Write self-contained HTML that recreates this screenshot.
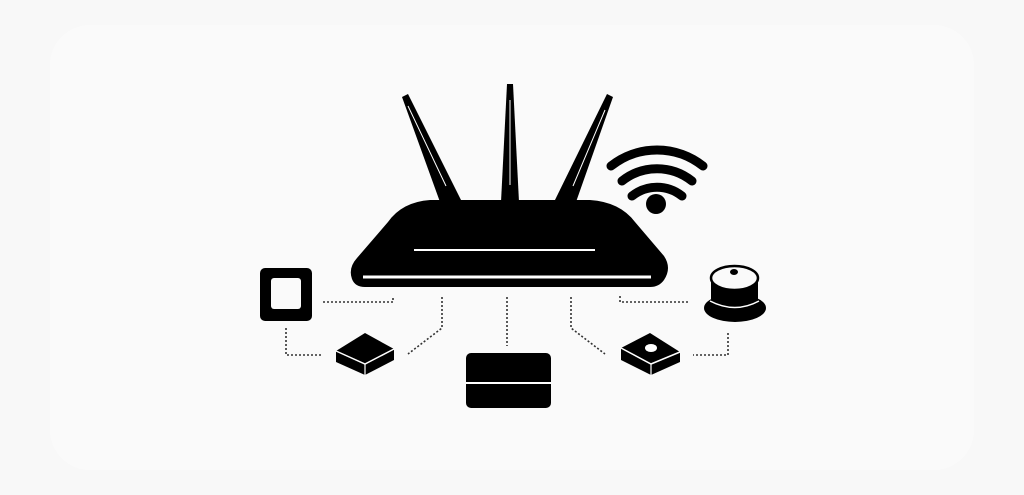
<!DOCTYPE html>
<html><head><meta charset="utf-8"><style>
html,body{margin:0;padding:0;background:#f8f8f8;}
svg{display:block}
</style></head><body>
<svg width="1024" height="495" viewBox="0 0 1024 495" xmlns="http://www.w3.org/2000/svg">
<rect width="1024" height="495" fill="#f8f8f8"/>
<rect x="50" y="25" width="924" height="445" rx="40" fill="#fafafa"/>
<!-- antennas -->
<polygon points="402,97 408,94 462,202 440,202" fill="#000"/>
<line x1="408" y1="106" x2="446" y2="186" stroke="#fff" stroke-width="1"/>
<polygon points="507,84 513,84 519,202 501,202" fill="#000"/>
<line x1="510" y1="100" x2="510" y2="185" stroke="#fff" stroke-width="1"/>
<polygon points="607,94 613,97 576,202 554,202" fill="#000"/>
<line x1="605" y1="110" x2="573" y2="186" stroke="#fff" stroke-width="1"/>
<!-- router body -->
<path d="M430,200 L590,200 Q620,202 635,222 L664,256 Q672,268 664,280 Q659,287 650,287 L365,287 Q355,287 352,279 Q348,268 357,258 L388,222 Q402,202 430,200 Z" fill="#000"/>
<line x1="414" y1="250" x2="595" y2="250" stroke="#fff" stroke-width="2"/>
<line x1="363" y1="277" x2="651" y2="277" stroke="#fff" stroke-width="3"/>
<!-- wifi -->
<g fill="none" stroke="#000" stroke-width="9" stroke-linecap="round">
<path d="M611,166 A74,74 0 0 1 703,166"/>
<path d="M622,181 A56,56 0 0 1 692,181"/>
<path d="M632,196 A40,40 0 0 1 682,196"/>
</g>
<circle cx="656" cy="204" r="10" fill="#000"/>
<!-- dotted connectors -->
<g fill="none" stroke="#333" stroke-width="1.6" stroke-dasharray="2,2">
<path d="M323,302 L393,302 L393,296"/>
<path d="M286,328 L286,355 L321,355"/>
<path d="M442,297 L442,328 L408,354"/>
<path d="M507,297 L507,346"/>
<path d="M571,297 L571,328 L605,354"/>
<path d="M620,296 L620,302 L690,302"/>
<path d="M728,333 L728,355 L693,355"/>
</g>
<!-- left square -->
<rect x="260" y="268" width="52" height="53" rx="5" fill="#000"/>
<rect x="271" y="278" width="30" height="31" rx="3" fill="#fafafa"/>
<!-- left box -->
<path d="M336,351 L336,362 L365,375 L394,360 L394,349 L365,333 Z" fill="#000"/>
<path d="M336,351 L365,364 L394,349" fill="none" stroke="#fff" stroke-width="1.5"/>
<line x1="365" y1="364" x2="365" y2="375" stroke="#fff" stroke-width="1.2"/>
<!-- center box -->
<rect x="466" y="353" width="85" height="55" rx="5" fill="#000"/>
<line x1="466" y1="383" x2="551" y2="383" stroke="#fff" stroke-width="2"/>
<!-- right box -->
<path d="M621,348 L621,360 L651,375 L680,362 L680,352 L650,333 Z" fill="#000"/>
<path d="M621,348 L651,364 L680,352" fill="none" stroke="#fff" stroke-width="1.5"/>
<line x1="651" y1="364" x2="651" y2="375" stroke="#fff" stroke-width="1.2"/>
<ellipse cx="651" cy="348" rx="6" ry="4" fill="#fff"/>
<!-- knob -->
<ellipse cx="735" cy="308" rx="31" ry="14" fill="#000"/>
<path d="M710,301 Q735,314 759,301" fill="none" stroke="#fff" stroke-width="1.5"/>
<path d="M711,278 L711,299 Q735,311 758,299 L758,278 Z" fill="#000"/>
<ellipse cx="734.5" cy="278" rx="23.5" ry="12" fill="#fafafa" stroke="#000" stroke-width="2.5"/>
<ellipse cx="734" cy="272" rx="4" ry="3" fill="#000"/>
</svg>
</body></html>
